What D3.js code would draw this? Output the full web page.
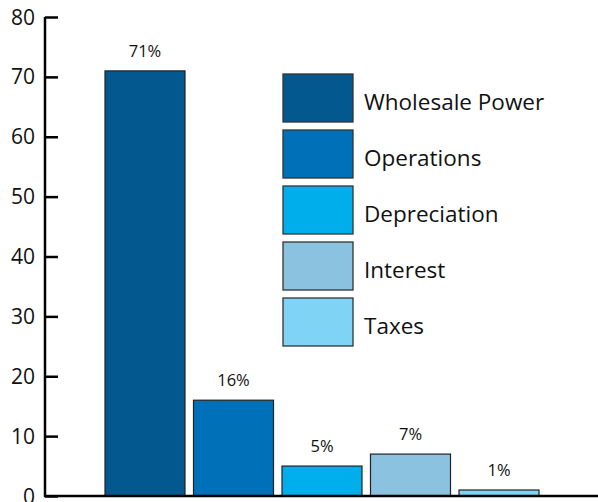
<!DOCTYPE html>
<html><head><meta charset="utf-8">
<script src="https://cdn.jsdelivr.net/npm/d3@7"></script>
<style>body{margin:0;background:#fff}</style>
</head><body>
<svg id="c" width="598" height="502"></svg>
<script>
const categories = ["Wholesale Power","Operations","Depreciation","Interest","Taxes"];
const values = [71,16,5,7,1];
const valueLabels = ["71%","16%","5%","7%","1%"];
const colors = ["#03588f","#0070b8","#00aeeb","#8ac2df","#7fd3f5"];
const yTicks = [0,10,20,30,40,50,60,70,80];

const svg = d3.select("#c");
const x = d3.scaleBand().domain(categories).range([105,539]).paddingInner(0.096).paddingOuter(0);
const y = d3.scaleLinear().domain([0,80]).range([496,17]);

// bars
svg.selectAll("rect.bar").data(categories).join("rect")
  .attr("class","bar")
  .attr("x", d=>x(d)).attr("width", x.bandwidth())
  .attr("y", (d,i)=>y(values[i])).attr("height",(d,i)=>y(0)-y(values[i]))
  .attr("fill",(d,i)=>colors[i]).attr("stroke","#222").attr("stroke-width",1.2);

svg.selectAll("text.vl").data(categories).join("text")
  .attr("class","vl")
  .attr("x", d=>x(d)+x.bandwidth()/2).attr("y",(d,i)=>y(values[i])-14)
  .attr("text-anchor","middle").attr("font-family","'Open Sans', sans-serif").attr("font-size",16.5)
  .attr("fill","#111").text((d,i)=>valueLabels[i]);

// y axis
const yAxis = d3.axisRight(y).tickValues(yTicks).tickSize(13).tickFormat("");
const ga = svg.append("g").attr("transform","translate(45,0)").call(yAxis);
ga.select(".domain").remove();
ga.selectAll(".tick line").attr("stroke","#000").attr("stroke-width",2.5);
svg.append("line").attr("x1",45).attr("x2",45).attr("y1",y(80)).attr("y2",y(0)+1).attr("stroke","#000").attr("stroke-width",2.5);
svg.append("line").attr("x1",44).attr("x2",598).attr("y1",y(0)).attr("y2",y(0)).attr("stroke","#000").attr("stroke-width",2.5);
svg.selectAll("text.yl").data(yTicks).join("text").attr("class","yl")
  .attr("x",35).attr("y",d=>y(d)).attr("dy","0.36em").attr("text-anchor","end")
  .attr("font-family","'Open Sans', sans-serif").attr("font-size",21).attr("fill","#111").text(d=>d);

// legend
const leg = svg.append("g").selectAll("g").data(categories).join("g")
  .attr("transform",(d,i)=>`translate(283,${74+i*56})`);
leg.append("rect").attr("width",70).attr("height",48).attr("fill",(d,i)=>colors[i]).attr("stroke","#333").attr("stroke-width",1.3);
leg.append("text").attr("x",81).attr("y",36)
  .attr("font-family","'Open Sans', sans-serif").attr("font-size",22.5).attr("fill","#111").text(d=>d);
</script>
</body></html>
